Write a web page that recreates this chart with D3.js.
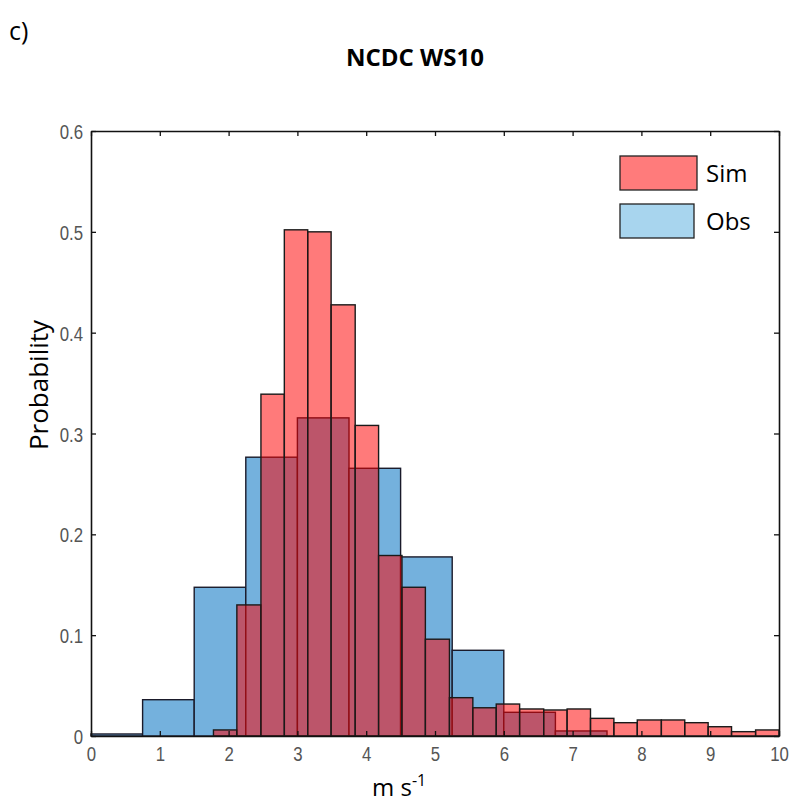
<!DOCTYPE html>
<html lang="en">
<head>
<meta charset="UTF-8">
<title>NCDC WS10</title>
<script src="https://d3js.org/d3.v7.min.js"></script>
<style>
  body { margin: 0; background: #fff; }
  .tick-label { font-family: "Liberation Sans", Arial, sans-serif; font-size: 21px; fill: #555; }
  .txt { font-family: "Open Sans", "Noto Sans", sans-serif; fill: #000; }
</style>
</head>
<body>
<div class="canvas"></div>
<script>
  // observed histogram (bin edges + probability)
  const obsEdges = [0, 0.75, 1.5, 2.25, 3.0, 3.75, 4.5, 5.25, 6.0, 6.75, 7.5]
  const obsProb = [0.002, 0.036, 0.1475, 0.2765, 0.3155, 0.2655, 0.1776, 0.085, 0.0235, 0.005]

  // simulated histogram
  const simEdges = [1.78, 2.12, 2.47, 2.81, 3.15, 3.49, 3.84, 4.18, 4.52, 4.86, 5.21, 5.55, 5.89,
    6.23, 6.58, 6.92, 7.26, 7.60, 7.94, 8.29, 8.63, 8.97, 9.31, 9.66, 10.0]
  const simProb = [0.006, 0.130, 0.339, 0.502, 0.500, 0.4276, 0.308, 0.179, 0.1475, 0.096, 0.038, 0.028,
    0.0317, 0.0268, 0.0258, 0.0268, 0.0175, 0.0132, 0.0159, 0.0159, 0.0132, 0.0092, 0.0043, 0.006]

  const xTicks = [0, 1, 2, 3, 4, 5, 6, 7, 8, 9, 10]
  const yTicks = [0, 0.1, 0.2, 0.3, 0.4, 0.5, 0.6]

  const width = 790
  const height = 804
  const [mt, mb, ml, mr] = [131, 68, 91, 11]
  const graphWidth = width - ml - mr
  const graphHeight = height - mt - mb

  const svg = d3.select('.canvas')
    .append('svg')
    .attr('width', width)
    .attr('height', height)

  const graph = svg.append('g')
    .attr('transform', `translate(${ml}, ${mt})`)

  const x = d3.scaleLinear().domain([0, 10]).range([0, graphWidth])
  const y = d3.scaleLinear().domain([0, 0.6]).range([graphHeight, 0])

  const toBins = (edges, vals) => vals.map((v, i) => ({ x0: edges[i], x1: edges[i + 1], p: v }))

  // obs bars (opaque blue)
  graph.selectAll('rect.obs')
    .data(toBins(obsEdges, obsProb))
    .enter()
    .append('rect')
    .attr('class', 'obs')
    .attr('x', d => x(d.x0))
    .attr('width', d => x(d.x1) - x(d.x0))
    .attr('y', d => y(d.p))
    .attr('height', d => y(0) - y(d.p))
    .attr('fill', '#74b1dd')
    .attr('stroke', '#1a1a2a')
    .attr('stroke-width', 1.4)

  // sim bars (translucent red on top)
  graph.selectAll('rect.sim')
    .data(toBins(simEdges, simProb))
    .enter()
    .append('rect')
    .attr('class', 'sim')
    .attr('x', d => x(d.x0))
    .attr('width', d => x(d.x1) - x(d.x0))
    .attr('y', d => y(d.p))
    .attr('height', d => y(0) - y(d.p))
    .attr('fill', 'rgba(255,0,0,0.52)')
    .attr('stroke', '#1a1a1a')
    .attr('stroke-width', 1.4)

  // box axes, matlab style (ticks inward)
  const tickLen = 5
  const xAxisB = d3.axisBottom(x).tickValues(xTicks).tickSizeInner(-tickLen).tickSizeOuter(0).tickPadding(10)
  const xAxisT = d3.axisTop(x).tickValues(xTicks).tickSizeInner(-tickLen).tickSizeOuter(0).tickFormat('')
  const yAxisL = d3.axisLeft(y).tickValues(yTicks).tickSizeInner(-tickLen).tickSizeOuter(0).tickPadding(8).tickFormat(d => d === 0 ? '0' : d3.format('.1f')(d))
  const yAxisR = d3.axisRight(y).tickValues(yTicks).tickSizeInner(-tickLen).tickSizeOuter(0).tickFormat('')

  const gxb = graph.append('g').attr('transform', `translate(0, ${graphHeight})`).call(xAxisB)
  graph.append('g').call(xAxisT)
  const gyl = graph.append('g').call(yAxisL)
  graph.append('g').attr('transform', `translate(${graphWidth}, 0)`).call(yAxisR)

  graph.selectAll('.domain').attr('stroke', '#111').attr('stroke-width', 1.6)
  graph.selectAll('.tick line').attr('stroke', '#111').attr('stroke-width', 1.3)
  graph.selectAll('.tick text').attr('class', 'tick-label').attr('font-family', null).attr('font-size', null).attr('fill', null)
  // narrow look of the matlab tick font
  gxb.selectAll('text').attr('dy', '0.72em').attr('transform', 'scale(0.8,1)')
  gyl.selectAll('text').attr('dy', '0.36em').attr('x', -8 / 0.8).attr('transform', 'scale(0.8,1)')

  // titles
  svg.append('text').attr('class', 'txt')
    .attr('x', 9).attr('y', 40)
    .style('font-size', '25px')
    .text('c)')

  svg.append('text').attr('class', 'txt')
    .attr('x', 415).attr('y', 66)
    .attr('text-anchor', 'middle')
    .style('font-size', '24px').style('font-weight', 'bold')
    .text('NCDC WS10')

  svg.append('text').attr('class', 'txt')
    .attr('transform', 'translate(48, 385) rotate(-90)')
    .attr('text-anchor', 'middle')
    .style('font-size', '26px')
    .text('Probability')

  const xl = svg.append('text').attr('class', 'txt')
    .attr('x', 372).attr('y', 796)
    .style('font-size', '24px')
  xl.append('tspan').text('m s')
  xl.append('tspan').attr('dy', -10).style('font-size', '16px').text('-1')

  // legend
  const legendItems = [
    { name: 'Sim', fill: '#ff7b7b', w: 77 },
    { name: 'Obs', fill: '#a8d5ee', w: 74 }
  ]
  const legend = svg.append('g').attr('transform', 'translate(620, 156)')
  legendItems.forEach((it, i) => {
    legend.append('rect')
      .attr('x', 0).attr('y', i * 48)
      .attr('width', it.w).attr('height', 34)
      .attr('fill', it.fill)
      .attr('stroke', '#222').attr('stroke-width', 1.3)
    legend.append('text').attr('class', 'txt')
      .attr('x', 86).attr('y', i * 48 + 26)
      .style('font-size', '24px')
      .text(it.name)
  })
</script>
</body>
</html>
